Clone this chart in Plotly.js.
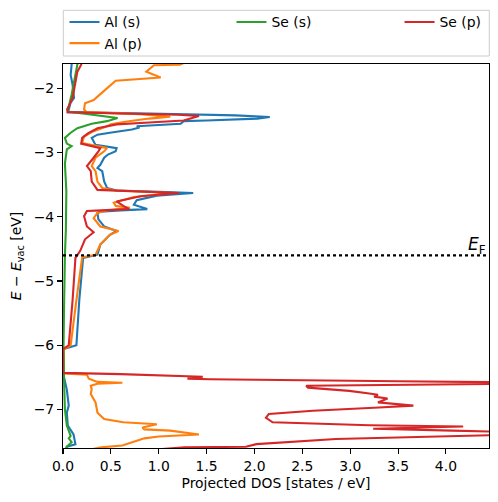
<!DOCTYPE html>
<html>
<head>
<meta charset="utf-8">
<script src="https://cdn.plot.ly/plotly-3.0.1.min.js"></script>
<style>
html, body { margin: 0; padding: 0; background: #ffffff; }
#chart { width: 498px; height: 502px; }
</style>
</head>
<body>
<div id="chart"></div>
<script>
// ---- data ----
const seriesNames = ['Al (s)', 'Al (p)', 'Se (s)', 'Se (p)'];
const seriesColors = ['#1f77b4', '#ff7f0e', '#2ca02c', '#d62728'];

const alS_energy = [-1.55,-1.63,-1.79,-1.94,-2.15,-2.22,-2.33,-2.37,-2.39,-2.42,-2.445,-2.47,-2.50,-2.51,-2.55,-2.57,-2.59,-2.61,-2.64,-2.69,-2.72,-2.77,-2.88,-2.93,-2.98,-3.03,-3.08,-3.19,-3.24,-3.29,-3.45,-3.55,-3.59,-3.61,-3.63,-3.67,-3.74,-3.81,-3.88,-3.90,-3.92,-3.94,-4.04,-4.15,-4.22,-4.28,-4.43,-4.59,-4.64,-5.30,-6.00,-6.06,-6.50,-6.69,-6.85,-6.94,-7.05,-7.25,-7.39,-7.50,-7.54,-7.58,-7.62];
const alS_dos = [0.09,0.09,0.08,0.10,0.115,0.08,0.06,0.05,0.9,1.8,2.16,2.03,1.5,1.26,1.23,0.95,0.77,0.80,0.72,0.49,0.36,0.30,0.34,0.56,0.55,0.47,0.43,0.39,0.36,0.41,0.43,0.46,0.56,1.0,1.36,0.98,0.77,0.74,0.88,0.6,0.39,0.36,0.37,0.43,0.56,0.49,0.39,0.36,0.21,0.17,0.14,0.01,0.01,0.04,0.05,0.06,0.04,0.05,0.11,0.13,0.13,0.04,0.03];

const alP_energy = [-1.55,-1.63,-1.64,-1.74,-1.83,-1.88,-2.05,-2.18,-2.23,-2.33,-2.37,-2.40,-2.44,-2.47,-2.52,-2.56,-2.59,-2.63,-2.68,-2.75,-2.85,-2.93,-2.98,-3.08,-3.21,-3.29,-3.45,-3.55,-3.59,-3.63,-3.69,-3.78,-3.83,-3.86,-3.90,-3.94,-4.02,-4.15,-4.22,-4.28,-4.43,-4.59,-4.63,-5.30,-6.00,-6.06,-6.44,-6.46,-6.52,-6.57,-6.585,-6.60,-6.63,-6.68,-6.76,-6.89,-7.05,-7.15,-7.20,-7.23,-7.26,-7.28,-7.31,-7.33,-7.39,-7.42,-7.45,-7.50,-7.56,-7.59,-7.62];
const alP_dos = [1.35,1.22,0.95,0.87,1.02,0.55,0.42,0.32,0.23,0.22,0.25,0.8,1.12,0.9,0.65,0.50,0.46,0.39,0.30,0.22,0.20,0.46,0.43,0.34,0.30,0.34,0.36,0.41,0.55,1.15,0.74,0.53,0.55,0.70,0.45,0.36,0.32,0.39,0.58,0.49,0.39,0.34,0.20,0.14,0.08,0.01,0.01,0.25,0.27,0.36,0.62,0.36,0.29,0.30,0.29,0.34,0.36,0.43,0.63,0.98,0.90,0.83,0.85,1.12,1.42,1.0,0.85,0.75,0.62,0.40,0.30];

const seS_energy = [-1.55,-1.63,-1.70,-1.85,-2.10,-2.28,-2.32,-2.36,-2.40,-2.43,-2.46,-2.51,-2.55,-2.62,-2.69,-2.77,-2.86,-2.90,-2.95,-3.17,-3.60,-4.20,-4.60,-5.50,-6.06,-6.50,-7.00,-7.25,-7.41,-7.45,-7.51,-7.58,-7.62];
const seS_dos = [0.16,0.15,0.14,0.12,0.09,0.06,0.045,0.05,0.25,0.45,0.57,0.46,0.30,0.15,0.08,0.02,0.04,0.09,0.04,0.02,0.035,0.03,0.02,0.01,0.005,0.01,0.02,0.04,0.08,0.06,0.09,0.04,0.03];

const seP_energy = [-1.55,-1.63,-1.74,-2.00,-2.15,-2.33,-2.37,-2.39,-2.41,-2.43,-2.46,-2.50,-2.53,-2.56,-2.62,-2.70,-2.77,-2.86,-2.93,-2.98,-3.08,-3.21,-3.29,-3.45,-3.58,-3.61,-3.63,-3.68,-3.76,-3.83,-3.88,-3.90,-3.91,-3.99,-4.15,-4.24,-4.35,-4.53,-4.64,-5.30,-6.00,-6.06,-6.43,-6.45,-6.47,-6.49,-6.52,-6.53,-6.56,-6.58,-6.60,-6.62,-6.63,-6.66,-6.71,-6.75,-6.77,-6.80,-6.83,-6.89,-6.94,-6.97,-7.02,-7.07,-7.13,-7.20,-7.22,-7.245,-7.265,-7.30,-7.33,-7.355,-7.40,-7.43,-7.44,-7.46,-7.54,-7.58,-7.59,-7.62];
const seP_dos = [0.20,0.19,0.15,0.115,0.10,0.045,0.05,0.6,1.2,1.42,1.35,1.26,0.9,0.56,0.36,0.26,0.20,0.19,0.39,0.37,0.32,0.25,0.29,0.30,0.36,0.8,1.21,0.81,0.56,0.63,0.69,0.4,0.25,0.22,0.25,0.32,0.23,0.18,0.13,0.10,0.06,0.0,0.0,0.6,1.11,1.46,1.30,1.53,3.5,4.8,4.6,3.0,2.54,2.56,2.99,3.20,3.29,3.25,3.39,3.29,3.66,3.3,2.61,2.15,2.12,2.19,2.6,3.2,4.18,3.24,4.07,4.8,4.5,3.8,3.55,2.85,2.02,1.91,1.27,1.0];

const fermiLevel = -4.6;
const xTickVals = [0.0, 0.5, 1.0, 1.5, 2.0, 2.5, 3.0, 3.5, 4.0];
const yTickVals = [-7, -6, -5, -4, -3, -2];
const xRange = [0, 4.45];
const yRange = [-7.6, -1.62];

// ---- traces ----
const energies = [alS_energy, alP_energy, seS_energy, seP_energy];
const doses = [alS_dos, alP_dos, seS_dos, seP_dos];
const legendIds = ['legend', 'legend', 'legend2', 'legend3'];

const traces = seriesNames.map((name, i) => ({
  type: 'scatter',
  mode: 'lines',
  name: name,
  x: doses[i],
  y: energies[i],
  line: { color: seriesColors[i], width: 2.1 },
  legend: legendIds[i],
  hoverinfo: 'skip'
}));

const FONT = 'DejaVu Sans, sans-serif';
const fontSize = 13.9;

const legendCommon = {
  orientation: 'v',
  xanchor: 'left',
  yanchor: 'top',
  y: 1.1497,
  bgcolor: 'rgba(0,0,0,0)',
  borderwidth: 0,
  font: { family: FONT, size: fontSize, color: '#000000' },
  tracegroupgap: 0
};

const layout = {
  width: 498,
  height: 502,
  margin: { l: 63, r: 9, t: 64, b: 54, autoexpand: false },
  paper_bgcolor: '#ffffff',
  plot_bgcolor: '#ffffff',
  font: { family: FONT, size: fontSize, color: '#000000' },
  showlegend: true,
  legend: Object.assign({}, legendCommon, { x: 0.0035 }),
  legend2: Object.assign({}, legendCommon, { x: 0.3955 }),
  legend3: Object.assign({}, legendCommon, { x: 0.79 }),
  xaxis: {
    range: xRange,
    tickvals: xTickVals,
    tickformat: '.1f',
    ticks: 'outside',
    ticklen: 5,
    tickwidth: 1.1,
    tickcolor: '#000000',
    showline: true,
    mirror: true,
    linecolor: '#000000',
    linewidth: 1.1,
    showgrid: false,
    zeroline: false,
    tickfont: { family: FONT, size: fontSize, color: '#000000' },
    title: { text: 'Projected DOS [states / eV]', font: { family: FONT, size: fontSize, color: '#000000' }, standoff: 5 }
  },
  yaxis: {
    range: yRange,
    tickvals: yTickVals,
    ticks: 'outside',
    ticklen: 5,
    tickwidth: 1.1,
    tickcolor: '#000000',
    showline: true,
    mirror: true,
    linecolor: '#000000',
    linewidth: 1.1,
    showgrid: false,
    zeroline: false,
    tickfont: { family: FONT, size: fontSize, color: '#000000' },
    title: { text: '<i>E</i> \u2212 <i>E</i><sub>vac</sub> [eV]', font: { family: FONT, size: fontSize, color: '#000000' }, standoff: 8 }
  },
  shapes: [
    {
      type: 'line', xref: 'paper', yref: 'y',
      x0: 0, x1: 1, y0: fermiLevel, y1: fermiLevel,
      line: { color: '#000000', width: 2.1, dash: 'dot' }
    },
    {
      type: 'rect', xref: 'paper', yref: 'paper',
      x0: 0.0007, x1: 1.0007, y0: 1.0208, y1: 1.1398,
      line: { color: '#cccccc', width: 1 },
      fillcolor: 'rgba(255,255,255,0.8)',
      layer: 'below'
    }
  ],
  annotations: [
    {
      xref: 'paper', yref: 'y',
      x: 1, y: fermiLevel,
      xanchor: 'right', yanchor: 'bottom',
      text: '<i>E</i><sub>F</sub>',
      showarrow: false,
      font: { family: FONT, size: 17, color: '#000000' },
      xshift: -1,
      yshift: -4
    }
  ]
};

Plotly.newPlot('chart', traces, layout, { displayModeBar: false, staticPlot: true });
</script>
</body>
</html>
